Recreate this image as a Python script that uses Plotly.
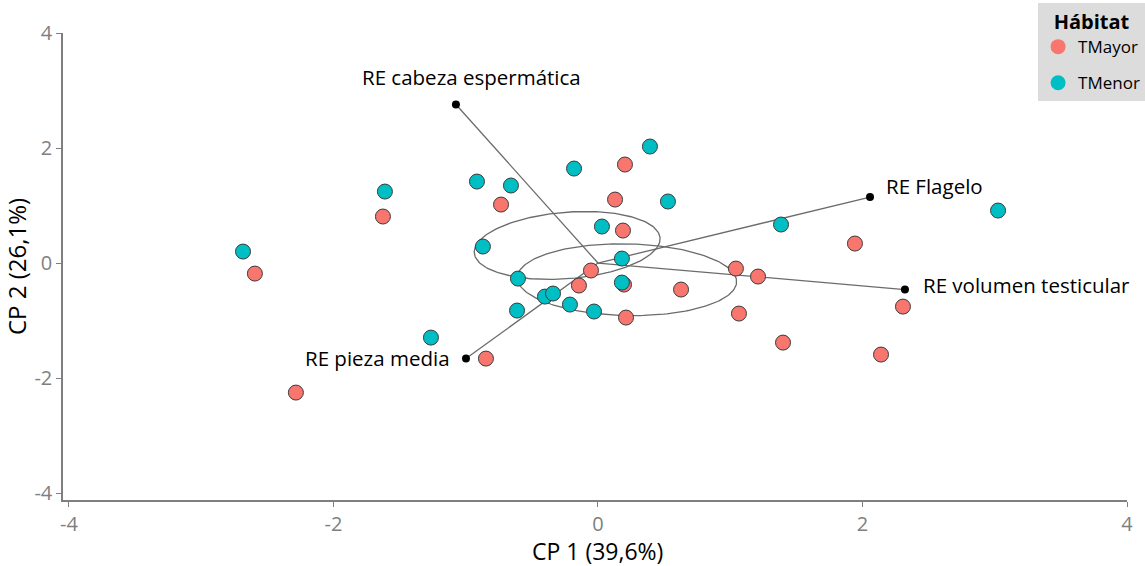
import numpy as np
import plotly.graph_objects as go

# --- data ---
tmenor_x = [-2.684, -1.611, -0.915, -0.658, -0.181, 0.393, 0.529, -0.870, 0.030, 1.384,
            3.025, 0.181, -0.605, 0.181, -0.401, -0.340, -0.612, -0.212, -0.030, -1.263]
tmenor_y = [0.200, 1.243, 1.417, 1.348, 1.643, 2.026, 1.070, 0.287, 0.635, 0.670,
            0.913, 0.078, -0.270, -0.339, -0.583, -0.530, -0.826, -0.722, -0.843, -1.296]
tmayor_x = [-2.594, -1.626, -0.733, 0.129, 0.204, 0.189, -0.053, -0.144, 0.197, 0.628,
            0.212, -0.847, -2.284, 1.043, 1.210, 1.943, 1.066, 1.399, 2.140, 2.306]
tmayor_y = [-0.183, 0.809, 1.017, 1.104, 1.713, 0.565, -0.130, -0.391, -0.374, -0.461,
            -0.948, -1.661, -2.252, -0.096, -0.235, 0.339, -0.878, -1.383, -1.591, -0.757]

var_names = ["RE cabeza espermática", "RE Flagelo", "RE volumen testicular", "RE pieza media"]
var_x = [-1.074, 2.057, 2.321, -0.998]
var_y = [2.757, 1.148, -0.461, -1.661]

tick_vals = [-4, -2, 0, 2, 4]
tick_text = ["-4", "-2", "0", "2", "4"]

x_title = "CP 1 (39,6%)"
y_title = "CP 2 (26,1%)"

groups = ["TMayor", "TMenor"]
colors = {"TMayor": "#F8766D", "TMenor": "#00BFC4"}
FONT = "Open Sans"


def conf_ellipse(x, y, level=0.95, n_pts=200):
    """95% confidence ellipse of the group mean (Hotelling)."""
    x = np.asarray(x); y = np.asarray(y)
    n = len(x)
    d2 = n - 2
    f_q = (d2 / 2.0) * ((1 - level) ** (-2.0 / d2) - 1)   # F(level; 2, n-2)
    q = 2.0 * (n - 1) / (n - 2) * f_q
    cov = np.cov(np.vstack([x, y])) / n
    vals, vecs = np.linalg.eigh(cov)
    t = np.linspace(0, 2 * np.pi, n_pts)
    circ = np.vstack([np.cos(t), np.sin(t)])
    pts = vecs @ (np.sqrt(vals * q)[:, None] * circ)
    return pts[0] + x.mean(), pts[1] + y.mean()


fig = go.Figure()

# ellipses
for gx, gy in [(tmenor_x, tmenor_y), (tmayor_x, tmayor_y)]:
    ex, ey = conf_ellipse(gx, gy)
    fig.add_trace(go.Scatter(x=ex, y=ey, mode="lines",
                             line=dict(color="#6b6b6b", width=1.3),
                             showlegend=False, hoverinfo="skip"))

# variable vectors
for vx, vy in zip(var_x, var_y):
    fig.add_trace(go.Scatter(x=[0, vx], y=[0, vy], mode="lines",
                             line=dict(color="#6b6b6b", width=1.3),
                             showlegend=False, hoverinfo="skip"))

# points
fig.add_trace(go.Scatter(x=tmayor_x, y=tmayor_y, mode="markers",
                         marker=dict(size=15, color=colors["TMayor"],
                                     line=dict(color="#3a3a3a", width=1)),
                         showlegend=False, name="TMayor"))
fig.add_trace(go.Scatter(x=tmenor_x, y=tmenor_y, mode="markers",
                         marker=dict(size=15, color=colors["TMenor"],
                                     line=dict(color="#3a3a3a", width=1)),
                         showlegend=False, name="TMenor"))

# vector endpoints
fig.add_trace(go.Scatter(x=var_x, y=var_y, mode="markers",
                         marker=dict(size=8, color="black"),
                         showlegend=False, hoverinfo="skip"))

# legend-only entries
for g in groups:
    fig.add_trace(go.Scatter(x=[None], y=[None], mode="markers", name=g, legendgroup=g,
                             marker=dict(size=15, color=colors[g], line=dict(width=0))))

# labels
label_pos = [
    dict(xanchor="center", yanchor="middle", xshift=16, yshift=27),
    dict(xanchor="left", yanchor="middle", xshift=14, yshift=11),
    dict(xanchor="left", yanchor="middle", xshift=16, yshift=5),
    dict(xanchor="right", yanchor="middle", xshift=-14, yshift=1),
]
for name, vx, vy, p in zip(var_names, var_x, var_y, label_pos):
    fig.add_annotation(x=vx, y=vy, text=name, showarrow=False,
                       font=dict(family=FONT, size=20.5, color="black"), **p)

# x-axis title as an annotation (below tick labels)
fig.add_annotation(x=0.5025, y=0, xref="paper", yref="paper", text=x_title,
                   showarrow=False, xanchor="center", yanchor="middle", yshift=-51,
                   font=dict(family=FONT, size=23, color="black"))

axis_common = dict(showgrid=False, zeroline=False, showline=True,
                   linecolor="#7f7f7f", linewidth=1.5,
                   ticks="outside", ticklen=5, tickcolor="#7f7f7f", tickwidth=1.3,
                   tickfont=dict(family=FONT, size=20, color="#7f7f7f"),
                   tickvals=tick_vals, ticktext=tick_text)

fig.update_xaxes(range=[-4.045, 4.0], automargin=False, **axis_common)
fig.update_yaxes(range=[-4.12, 4.0], automargin=False,
                 title=dict(text=y_title, standoff=8,
                            font=dict(family=FONT, size=24, color="black")), **axis_common)

fig.update_layout(
    width=1145, height=566,
    margin=dict(l=63, r=18, t=33, b=66, autoexpand=False),
    plot_bgcolor="white", paper_bgcolor="white",
    font=dict(family=FONT),
    legend=dict(title=dict(text="<b>Hábitat</b>", side="top center",
                           font=dict(family=FONT, size=20, color="black")),
                font=dict(family=FONT, size=17, color="black"),
                bgcolor="#dcdcdc", x=1.017, xanchor="right", y=1.064, yanchor="top",
                itemwidth=30, tracegroupgap=11),
)

fig.write_html("out.html", config={"displayModeBar": False},
               post_script="document.body.style.margin='0';document.body.style.overflow='hidden';")
